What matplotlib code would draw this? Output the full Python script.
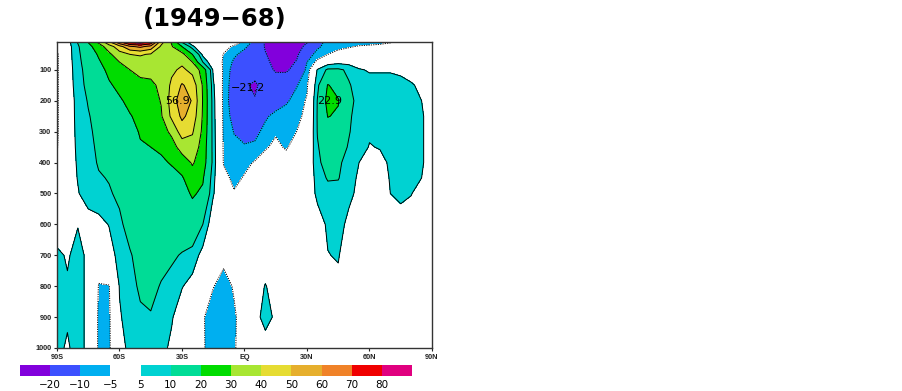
import numpy as np
import matplotlib
matplotlib.use("Agg")
import matplotlib.pyplot as plt

# latitude (deg) and pressure (hPa) of the grid points
lat = [-90, -85, -80, -75, -70, -65, -60, -55, -50, -45, -40, -35, -30, -25,
       -20, -15, -10, -5, 0, 5, 10, 15, 20, 25, 30, 35, 40, 45, 50, 55, 60,
       65, 70, 75, 80, 85, 90]
pres = [10, 25, 50, 75, 100, 150, 200, 250, 300, 350, 400, 450, 500, 600,
        700, 800, 900, 1000]

# one column per latitude, top (10 hPa) to bottom (1000 hPa)
s90 = [-3, -4, -6, -6, -6, -6, -6, -6, -6, -5.5, -3, -1, 0, 2, 6, 6.5, 6.5, 6]
s85 = [3, 2.5, 2.5, 2.5, 2.5, 2.5, 2.5, 2.5, 2.5, 2.5, 2.5, 2.5, 2.5, 3, 4.5, 5.5, 5.5, 4.5]
s80 = [10.5, 9, 8.5, 8, 7.5, 7, 6.3, 6.2, 6, 5.8, 5.5, 5.2, 4.7, 4.8, 6.5, 6.5, 6.5, 6.5]
s75 = [20.5, 17, 15, 14, 13, 12, 10.5, 9.5, 9, 8.5, 8, 7.5, 7, 3, 4, 4, 4, 4]
s70 = [32, 25, 21, 19, 17, 15, 13.5, 12.5, 11.5, 11, 10.5, 9.5, 8, 3.5, -2, -5.3, -6, -6]
s65 = [48, 35, 28, 24, 22, 19, 17, 15.5, 14, 13, 12, 10.3, 9.5, 5.2, 3, -5.3, -6, -6]
s60 = [68, 46, 36, 30, 27, 22, 19, 18, 16.5, 15.5, 14, 13, 11, 9, 6.5, 5.3, 4.5, 3.5]
s55 = [84, 58, 40, 34, 30, 26, 22, 19.5, 18, 17, 16, 15, 14, 12, 9.5, 8, 7, 6]
s50 = [86, 62, 41, 36, 32, 28, 25, 22, 20.5, 19.5, 18, 17, 16, 14, 12, 11, 9, 7.5]
s45 = [79, 56, 39, 35, 31.5, 29, 26, 24, 22, 20, 18, 17, 16, 15, 13, 12, 9.5, 8]
s40 = [44, 38, 33, 32, 32, 31, 30.5, 29, 26, 21, 19, 17.5, 16.5, 15, 12.5, 9.5, 8, 6.5]
s35 = [29, 31, 33, 35, 38, 42, 44, 42, 32, 26, 20.5, 18, 17, 14, 11, 8, 5.5, 4]
s30 = [9, 20, 33, 38, 42, 51, 56.9, 52, 45, 34, 25, 19, 17, 14.5, 9.5, 5.3, 2, 0]
s25 = [1, 6.5, 20, 30, 37, 46, 49, 46, 41, 36, 31, 26, 21, 15, 8, 3, 0, -2]
s20 = [0, -1, 3.5, 10, 26, 29, 29.5, 29, 28, 26, 25, 21, 18.5, 10, 3, 0.5, -4.5, -4.5]
s15 = [0, 0, 0, 0, 4, 6, 7, 7.2, 7.5, 7.8, 8, 6.5, 5.5, 1, -1, -4.8, -7.5, -7]
s10 = [0, -3, -5.3, -5.8, -6, -6.5, -6.5, -6.3, -6, -5.8, -5.5, -3, -1, 0, -3.5, -7, -8, -7.5]
s05 = [-2, -6, -9, -11, -12.5, -13.5, -14, -12.5, -10.3, -8.5, -7.5, -6.5, -4.5, -1, -2, -4.5, -5.7, -5.5]
eq = [-6, -9, -12, -14, -16, -19, -18, -15, -12, -9.5, -6.5, -4.5, -3.5, -1, 0, -1.5, -2.5, -2.5]
n05 = [-12, -13, -15, -16, -17, -21.2, -19.5, -16, -11.5, -9, -4.5, -3, -2, -1, 0, 1, 2, 0]
n10 = [-21, -20.8, -19.5, -18.5, -17.5, -17, -15, -10.8, -8.5, -5.5, -3, -2, -1, 0, 0.5, 5.4, 8, 1]
n15 = [-24, -24, -23.5, -22, -20.8, -16, -13, -8.5, -5.5, -4, -2, -1, -0.5, 0, 0, 2, 3.5, 0]
n20 = [-25, -25, -24, -22.5, -21, -15, -11, -7, -6.5, -5.5, -3, -1.5, -0.5, 0, 0, 0, 0, 0]
n25 = [-24, -23, -21.5, -19.5, -17.5, -10.5, -7.5, -6, -5, -3, -2, -1, -0.5, 0, 0, 0, 0, 0]
n30 = [-20.5, -18, -13, -10, -8.5, -5.8, -4.5, -4, -3, -2, -1, -0.5, 0, 0, 0, 0, 0, 0]
n35 = [-12, -11, -8, -3.5, 5.5, 8.5, 10.3, 10.5, 10.3, 9.5, 9, 7.5, 6.5, 2, 0, 0, 0, 0]
n40 = [-8.5, -8, -5, 2, 11, 20.5, 22.9, 20.3, 16, 13.5, 12, 10.5, 8, 6, 4.8, 3, 1, 0]
n45 = [-7, -6.5, -3, 3.5, 11, 17, 20.5, 19, 15, 13, 11, 10.3, 8, 6.5, 5.5, 3.5, 1, 0]
n50 = [-7, -5.5, -2, 3, 9, 10.5, 12, 11, 10.5, 9.5, 8, 7, 6, 4, 1, 0, 0, 0]
n55 = [-7, -4.5, -1.5, 2, 5.5, 8, 8, 7.5, 7, 6.5, 5, 4.2, 4, 1, 0, 0, 0, 0]
n60 = [-7, -4, -1.5, 1.5, 4.5, 7, 7, 6.5, 5.5, 4.8, 4, 3, 2, 0.5, 0, 0, 0, 0]
n65 = [-6.5, -3.5, -1, 1.5, 4.5, 7, 7, 6.5, 6, 5.2, 4, 3, 2, 0.5, 0, 0, 0, 0]
n70 = [-5.5, -3, -1, 1.5, 4.5, 7, 7.5, 7.5, 7, 6.5, 5.5, 5.3, 5, 1, 0, 0, 0, 0]
n75 = [-4, -2, -1, 1, 4, 6.5, 7, 7, 7, 7, 7, 6.5, 6, 3, 0.5, 0, 0, 0]
n80 = [-2, -1.5, -0.5, 0.5, 3, 5.5, 6.5, 6.5, 6.5, 6.5, 6.5, 6.5, 5.2, 2.5, 0, 0, 0, 0]
n85 = [-1, -1, -0.5, 0, 2, 4, 5, 5.5, 5.5, 5.5, 5.5, 5, 3, 1, 0, 0, 0, 0]
n90 = [-1, -1, -0.5, 0, 1, 2, 3, 3, 3, 3, 3, 2.5, 1.5, 0.5, 0, 0, 0, 0]

# extremes that carry a value label (lat, hPa of the grid point)
extremes = [(-30, 200), (5, 150), (40, 200)]

fill_levels = [-100, -20, -10, -5, 5, 10, 20, 30, 40, 50, 60, 70, 80, 100]
fill_colors = ['#8200dc', '#3c50ff', '#00aff0', '#ffffff', '#00d2d2', '#00dc96',
               '#00dc00', '#a8e632', '#e6dc32', '#e6af2d', '#f08228', '#f00000',
               '#e0007f']
cbar_labels = ['-20', '-10', '-5', '5', '10', '20', '30', '40', '50', '60', '70', '80']
xtick_pos = [-90, -60, -30, 0, 30, 60, 90]
xtick_lab = ['90S', '60S', '30S', 'EQ', '30N', '60N', '90N']
ytick_pos = [100, 200, 300, 400, 500, 600, 700, 800, 900, 1000]

columns = [s90, s85, s80, s75, s70, s65, s60, s55, s50, s45, s40, s35, s30,
           s25, s20, s15, s10, s05, eq, n05, n10, n15, n20, n25, n30, n35,
           n40, n45, n50, n55, n60, n65, n70, n75, n80, n85, n90]
psi = np.array(columns, dtype=float).T

fig = plt.figure(figsize=(9.03, 3.91), dpi=100)
ax = fig.add_axes([57 / 903, 43 / 391, 375 / 903, 306 / 391])

cf = ax.contourf(lat, pres, psi, levels=fill_levels, colors=fill_colors)
pos = [lv for lv in fill_levels[1:-1] if lv > 0]
neg = [lv for lv in fill_levels[1:-1] if lv < 0]
ax.contour(lat, pres, psi, levels=pos, colors='k', linewidths=0.7,
           linestyles='solid')
ax.contour(lat, pres, psi, levels=neg, colors='k', linewidths=0.7,
           linestyles=[(0, (1.2, 1.2))])

# value labels for the extremes, offset a bit like the original
offsets = {(-30, 200): (-2, 0), (5, 150): (-3.5, 10), (40, 200): (1, 0)}
for (la, pr) in extremes:
    val = psi[pres.index(pr), lat.index(la)]
    dx, dp = offsets[(la, pr)]
    ax.text(la + dx, pr + dp, f"{val:.1f}".replace('-', '\u2212'),
            ha='center', va='center', fontsize=8, color='k')

ax.set_xlim(-90, 90)
ax.set_ylim(1000, 10)
ax.set_xticks(xtick_pos)
ax.set_xticklabels(xtick_lab)
ax.set_yticks(ytick_pos)
ax.set_yticklabels([str(v) for v in ytick_pos])
for lab in ax.get_xticklabels() + ax.get_yticklabels():
    lab.set_family('Liberation Sans')
    lab.set_fontweight('bold')
    lab.set_fontsize(5.3)
ax.tick_params(direction='out', length=2.5, width=0.8, pad=1.5, colors='#222222')
for sp in ax.spines.values():
    sp.set_color('#333333')
    sp.set_linewidth(1.0)

fig.text(215 / 903, 1 - 19 / 391, '(1949\u221268)', ha='center', va='center',
         fontsize=17.5, fontweight='bold', family='DejaVu Sans')

cax = fig.add_axes([20 / 903, 15 / 391, 392 / 903, 11 / 391])
cb = fig.colorbar(cf, cax=cax, orientation='horizontal', spacing='uniform',
                  ticks=fill_levels[1:-1])
cb.outline.set_visible(False)
cb.ax.set_xticklabels([t.replace('-', '\u2212') for t in cbar_labels])
cax.tick_params(length=0, labelsize=7.5, pad=3)

fig.savefig('out.png', dpi=100)
